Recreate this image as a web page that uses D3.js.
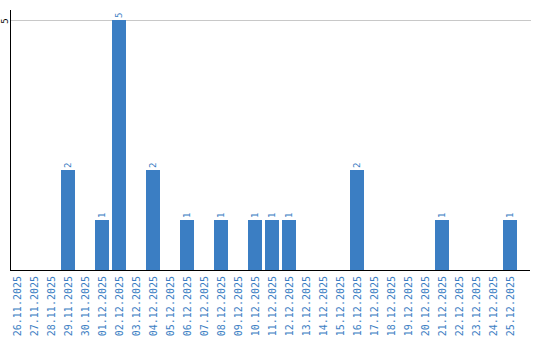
<!DOCTYPE html>
<html>
<head>
<meta charset="utf-8">
<script src="https://cdn.jsdelivr.net/npm/d3@7/dist/d3.min.js"></script>
<style>
  html, body { margin: 0; padding: 0; background: #fff; }
  svg { display: block; }
</style>
</head>
<body>
<div id="chart"></div>
<script>
// Dates (categories) and counts per day.
const dates = [
  '26.11.2025', '27.11.2025', '28.11.2025', '29.11.2025', '30.11.2025',
  '01.12.2025', '02.12.2025', '03.12.2025', '04.12.2025', '05.12.2025',
  '06.12.2025', '07.12.2025', '08.12.2025', '09.12.2025', '10.12.2025',
  '11.12.2025', '12.12.2025', '13.12.2025', '14.12.2025', '15.12.2025',
  '16.12.2025', '17.12.2025', '18.12.2025', '19.12.2025', '20.12.2025',
  '21.12.2025', '22.12.2025', '23.12.2025', '24.12.2025', '25.12.2025'
];
const counts = [
  0, 0, 0, 2, 0,
  1, 5, 0, 2, 0,
  1, 0, 1, 0, 1,
  1, 1, 0, 0, 0,
  2, 0, 0, 0, 0,
  1, 0, 0, 0, 1
];
const yTicks = [5];

const width = 540, height = 340;
const margin = { top: 10, right: 10, bottom: 70, left: 10 };
const blue = '#3b7ec3';

const svg = d3.select('#chart').append('svg')
  .attr('width', width)
  .attr('height', height);

// x: 17px per day, 14px bars, packed from the left edge of the plot
const x = d3.scaleBand()
  .domain(dates)
  .range([margin.left, 520])
  .paddingInner(3 / 17)
  .paddingOuter(1.5 / 17)
  .align(0);

const y = d3.scaleLinear()
  .domain([0, 5.2])
  .range([height - margin.bottom, margin.top]);

// grid line
svg.append('g')
  .selectAll('line')
  .data(yTicks)
  .join('line')
  .attr('x1', margin.left)
  .attr('x2', width - margin.right + 1)
  .attr('y1', d => y(d) + 0.5)
  .attr('y2', d => y(d) + 0.5)
  .attr('stroke', '#c8c8c8')
  .attr('stroke-width', 1);

// bars
const data = dates.map((d, i) => ({ date: d, value: counts[i] }));

svg.append('g')
  .selectAll('rect')
  .data(data)
  .join('rect')
  .attr('x', d => x(d.date))
  .attr('y', d => y(d.value))
  .attr('width', x.bandwidth())
  .attr('height', d => y(0) - y(d.value))
  .attr('fill', blue)
  .attr('shape-rendering', 'crispEdges');

// value labels above bars
svg.append('g')
  .selectAll('text')
  .data(data.filter(d => d.value > 0))
  .join('text')
  .attr('transform', d =>
    `translate(${x(d.date) + x.bandwidth() / 2},${y(d.value) - 2}) rotate(-90)`)
  .attr('dy', '0.35em')
  .attr('text-anchor', 'start')
  .attr('fill', blue)
  .style('font', '9px "DejaVu Sans Mono", monospace')
  .text(d => d.value);

// axes lines
svg.append('line')
  .attr('x1', margin.left + 0.5).attr('x2', margin.left + 0.5)
  .attr('y1', margin.top).attr('y2', y(0) + 1)
  .attr('stroke', '#000');

svg.append('line')
  .attr('x1', margin.left).attr('x2', width - margin.right)
  .attr('y1', y(0) + 0.5).attr('y2', y(0) + 0.5)
  .attr('stroke', '#000');

// y tick labels
svg.append('g')
  .selectAll('text')
  .data(yTicks)
  .join('text')
  .attr('transform', d => `translate(5,${y(d) + 1}) rotate(-90)`)
  .attr('dy', '0.35em')
  .attr('text-anchor', 'middle')
  .attr('fill', '#000')
  .style('font', '9px "DejaVu Sans Mono", monospace')
  .text(d => d);

// x tick labels (rotated)
svg.append('g')
  .selectAll('text')
  .data(dates)
  .join('text')
  .attr('transform', d =>
    `translate(${x(d) + x.bandwidth() / 2},${y(0) + 6}) rotate(-90)`)
  .attr('dy', '0.35em')
  .attr('text-anchor', 'end')
  .attr('fill', blue)
  .style('font', '10px "DejaVu Sans Mono", monospace')
  .text(d => d);
</script>
</body>
</html>
